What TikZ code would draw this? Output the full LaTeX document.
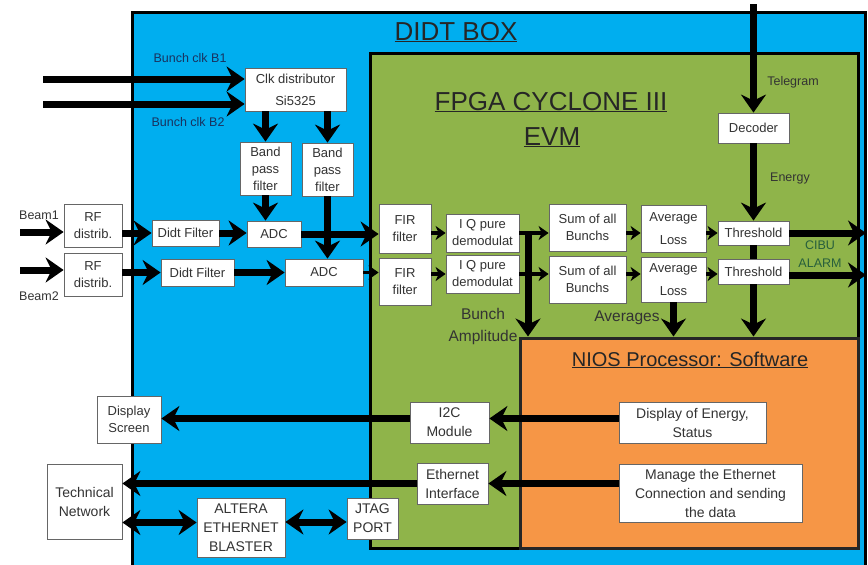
\documentclass[tikz,border=0pt]{standalone}
\usepackage{fontspec}
\setmainfont{Liberation Sans}
\usepackage{tikz}
\usetikzlibrary{arrows.meta}

\definecolor{didtblue}{RGB}{0,174,239}
\definecolor{fpgagreen}{RGB}{143,180,74}
\definecolor{niosorange}{RGB}{246,150,70}
\definecolor{clktext}{RGB}{25,50,95}
\definecolor{alarmtext}{RGB}{40,95,60}

\begin{document}
\begin{tikzpicture}
            [x=1pt,y=-1pt,
             blk/.style={draw=black!60, fill=white, line width=0.8pt, align=center, inner sep=0pt, text=black!80, font=\fontsize{13}{17}\selectfont},
             bigblk/.style={blk, font=\fontsize{14}{19}\selectfont},
             lbl/.style={align=center, inner sep=0pt, text=black!80, font=\fontsize{12.5}{18}\selectfont},
             ttl/.style={anchor=base, inner sep=0pt, text=black!85, font=\fontsize{26}{30}\selectfont},
             fat/.style={line width=7pt, -{Stealth[length=18pt,width=25pt,inset=6pt]}},
             slim/.style={line width=3.5pt, -{Stealth[length=10pt,width=14pt,inset=3pt]}},
             twoway/.style={line width=7pt, {Stealth[length=18pt,width=25pt,inset=6pt]}-{Stealth[length=18pt,width=25pt,inset=6pt]}},
             region/.style={line width=3pt, inner sep=0pt}]
          \useasboundingbox (0,0) rectangle (868,565);

          \node[region, draw=black, fill=didtblue, minimum width=733pt, minimum height=563pt] (didt) at (498.5,293.5) {};
          \node[region, draw=black, fill=fpgagreen, minimum width=488pt, minimum height=495pt] (fpga) at (614,300.5) {};
          \node[region, draw=black!85, fill=niosorange, minimum width=338pt, minimum height=210pt] (nios) at (689,443) {};

          \node[ttl] (didttitle) at (456,40) {\underline{DIDT BOX}};
          \node[ttl] (fpgatitle) at (551,110) {\underline{FPGA CYCLONE III}};
          \node[ttl] (evmtitle) at (552,145) {\underline{EVM}};
          \node[ttl, font=\fontsize{20}{24}\selectfont] (niostitle) at (690,366) {\underline{NIOS Processor: Software}};

          \node[blk, minimum width=101pt, minimum height=43pt] (clk) at (295.5,89.5) {Clk distributor\\[5pt]Si5325};
          \node[blk, minimum width=51pt, minimum height=53pt] (bp1) at (265.5,168.5) {Band\\pass\\filter};
          \node[blk, minimum width=51pt, minimum height=53pt] (bp2) at (327.5,169.5) {Band\\pass\\filter};
          \node[blk, minimum width=58pt, minimum height=43pt] (rf1) at (93,225.5) {RF\\distrib.};
          \node[blk, minimum width=58pt, minimum height=43pt] (rf2) at (93,274.5) {RF\\distrib.};
          \node[blk, minimum width=67pt, minimum height=26pt] (df1) at (185.5,233) {Didt Filter};
          \node[blk, minimum width=73pt, minimum height=27pt] (df2) at (197.5,272.5) {Didt Filter};
          \node[blk, minimum width=54pt, minimum height=26pt] (adc1) at (274,234) {ADC};
          \node[blk, minimum width=78pt, minimum height=27pt] (adc2) at (324,272.5) {ADC};
          \node[blk, minimum width=52pt, minimum height=49pt] (fir1) at (405,228.5) {FIR\\filter};
          \node[blk, minimum width=52pt, minimum height=47pt] (fir2) at (405,281.5) {FIR\\filter};
          \node[blk, minimum width=73pt, minimum height=38pt] (iq1) at (482.5,233) {I Q pure\\demodulat};
          \node[blk, minimum width=73pt, minimum height=38pt] (iq2) at (482.5,274) {I Q pure\\demodulat};
          \node[blk, minimum width=77pt, minimum height=47pt] (sum1) at (587.5,227.5) {Sum of all\\Bunchs};
          \node[blk, minimum width=77pt, minimum height=47pt] (sum2) at (587.5,279.5) {Sum of all\\Bunchs};
          \node[blk, minimum width=65pt, minimum height=47pt] (avg1) at (673.5,228.5) {Average\\[6pt]Loss};
          \node[blk, minimum width=65pt, minimum height=45pt] (avg2) at (673.5,279.5) {Average\\[6pt]Loss};
          \node[blk, minimum width=71pt, minimum height=30pt] (dec) at (753.5,128) {Decoder};
          \node[blk, minimum width=71pt, minimum height=24pt] (thr1) at (753.5,233) {Threshold};
          \node[blk, minimum width=71pt, minimum height=25pt] (thr2) at (753.5,271.5) {Threshold};

          \node[bigblk, minimum width=79pt, minimum height=41pt] (i2c) at (449.5,422.5) {I2C\\Module};
          \node[bigblk, minimum width=147pt, minimum height=41pt] (dispE) at (692.5,422.5) {Display of Energy,\\Status};
          \node[blk, minimum width=64pt, minimum height=47pt] (dscr) at (129,419.5) {Display\\Screen};
          \node[bigblk, minimum width=71pt, minimum height=41pt] (eth) at (452.5,483.5) {Ethernet\\Interface};
          \node[bigblk, minimum width=183pt, minimum height=58pt] (mng) at (710.5,493) {Manage the Ethernet\\Connection and sending\\the data};
          \node[bigblk, minimum width=75pt, minimum height=75pt] (tech) at (84.5,501.5) {Technical\\Network};
          \node[bigblk, minimum width=88pt, minimum height=59pt] (alt) at (241,527.5) {ALTERA\\ETHERNET\\BLASTER};
          \node[bigblk, minimum width=51pt, minimum height=41pt] (jtag) at (372.5,518.5) {JTAG\\PORT};

          \node[lbl, text=clktext] (b1lbl) at (190,58) {Bunch clk B1};
          \node[lbl, text=clktext] (b2lbl) at (188,122) {Bunch clk B2};
          \node[lbl] (beam1lbl) at (39,215) {Beam1};
          \node[lbl] (beam2lbl) at (39,296) {Beam2};
          \node[lbl] (tellbl) at (793,82) {Telegram};
          \node[lbl] (enlbl) at (790,178) {Energy};
          \node[lbl, text=alarmtext] (alarmlbl) at (820,254) {CIBU\\ALARM};
          \node[lbl, font=\fontsize{15.5}{22}\selectfont] (amplbl) at (483,326) {Bunch\\Amplitude};
          \node[lbl, font=\fontsize{15.5}{22}\selectfont] (avglbl) at (627,318) {Averages};

          \coordinate (b1in) at (43,79);
          \coordinate (b2in) at (43,104);
          \coordinate (beam1in) at (20,232);
          \coordinate (beam2in) at (20,270);
          \coordinate (telin) at (754,4);
          \coordinate (alarm) at (866,233);
          \coordinate (ampl) at (528,233);

          \draw[fat] (b1in) -- (b1in -| clk.west);
          \draw[fat] (b2in) -- (b2in -| clk.west);
          \draw[fat] (beam1in) -- (beam1in -| rf1.west);
          \draw[fat] (beam2in) -- (beam2in -| rf2.west);
          \draw[fat] (bp1.north |- clk.south) -- (bp1.north);
          \draw[fat] (bp2.north |- clk.south) -- (bp2.north);
          \foreach \from/\to in {bp1/adc1, bp2/adc2}
            \draw[fat] (\from.south) -- (\from.south |- \to.north);
          \foreach \from/\to in {rf1/df1, rf2/df2}
            \draw[fat] (\from.east |- \to) -- (\to.west);
          \foreach \from/\to in {df1/adc1, df2/adc2, adc1/fir1}
            \draw[fat] (\from.east) -- (\from.east -| \to.west);
          \foreach \from/\to in {adc2/fir2, iq1/sum1, iq2/sum2}
            \draw[slim] (\from.east) -- (\from.east -| \to.west);
          \foreach \from/\to in {fir1/iq1, fir2/iq2, avg1/thr1}
            \draw[slim] (\from.east |- \to) -- (\to.west);
          \draw[slim] (sum1.east |- iq1) -- (avg1.west |- iq1);
          \draw[slim] (sum2.east |- iq2) -- (avg2.west |- iq2);
          \draw[slim] ([yshift=-2.5pt]avg2.east |- thr2) -- ([yshift=-2.5pt]thr2.west);
          \draw[fat] (thr1.east) -- (alarm);
          \draw[fat] ([yshift=-3.5pt]thr2.east) -- ([yshift=-3.5pt]thr2.east -| alarm);
          \draw[fat] (dec.north |- telin) -- (dec.north);
          \draw[fat] (dec.south) -- (thr1.north);
          \draw[line width=7pt] (thr1.south) -- (thr2.north);
          \draw[fat] (thr2.south) -- (thr2.south |- nios.north);
          \draw[fat] (avg2.south) -- (avg2.south |- nios.north);
          \draw[fat] (ampl) -- (ampl |- nios.north);

          \draw[fat] ([yshift=4pt]dispE.west) -- ([yshift=4pt]i2c.east);
          \draw[fat] ([yshift=4pt]i2c.west) -- ([yshift=4pt]i2c.west -| dscr.east);
          \draw[fat] (mng.west |- eth) -- (eth.east);
          \draw[fat] (eth.west) -- (eth.west -| tech.east);
          \draw[twoway] ([yshift=5pt]alt.west) -- ([yshift=5pt]alt.west -| tech.east);
          \draw[twoway] ([yshift=-3.5pt]alt.east |- jtag) -- ([yshift=-3.5pt]jtag.west);
        \end{tikzpicture}
\end{document}
